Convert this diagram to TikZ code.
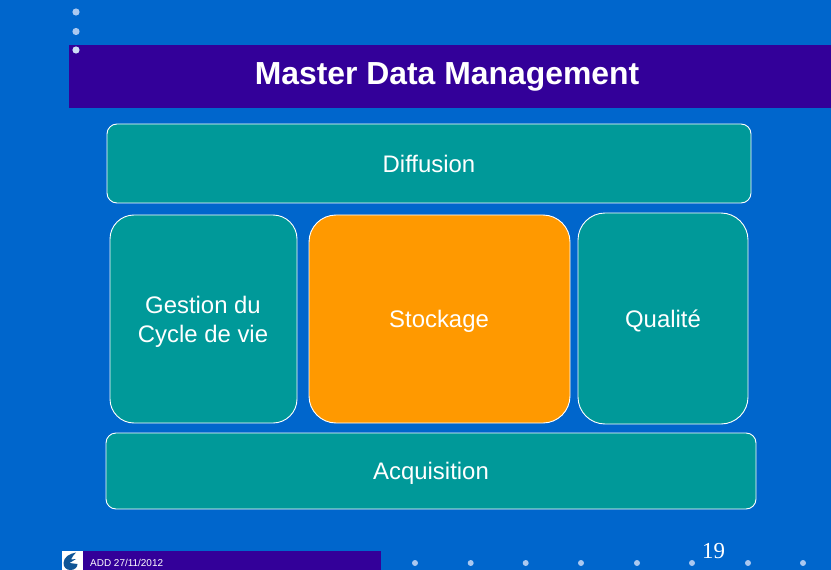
\documentclass[tikz,border=0pt]{standalone}
\usepackage{fontspec}
\setmainfont{Liberation Sans}
\newfontfamily\serifnum{Liberation Serif}
\definecolor{bgblue}{RGB}{0,102,204}
\definecolor{band}{RGB}{51,0,153}
\definecolor{tealc}{RGB}{0,153,153}
\definecolor{orangec}{RGB}{255,153,0}
\definecolor{dotc}{RGB}{170,200,240}
\definecolor{logoc}{RGB}{15,85,150}
\tikzset{
  x=1bp,y=-1bp,
  pane/.style={draw=white,line width=0.9bp,fill=tealc,rounded corners=#1},
  hot/.style={draw=white,line width=0.9bp,fill=orangec,rounded corners=#1},
  lab/.style={text=white,font=\fontsize{24}{29}\selectfont,align=center,inner sep=0},
}
\begin{document}
\begin{tikzpicture}
\useasboundingbox (0,0) rectangle (831,570);
\fill[bgblue] (0,0) rectangle (831,570);
\fill[band] (69,45) rectangle (831,108);
\foreach \y/\c in {12/dotc,31.5/dotc,50/dotc!60!white}
  \fill[\c] (76,\y) circle (3.6bp);
\node[inner sep=0,text=white,font=\bfseries\fontsize{32}{38}\selectfont] (title) at (447,77) {Master Data Management};
\draw[pane=10bp] (107,124) rectangle (751,203);
\draw[pane=24bp] (110,215) rectangle (297,423);
\draw[hot=27bp] (309,215) rectangle (570,423);
\draw[pane=27bp] (578,213) rectangle (748,424);
\draw[pane=10bp] (106,433) rectangle (756,509);
\node[lab] (diffusion) at (429,163.5) {Diffusion};
\node[lab] (gestion) at (203,321.5) {Gestion du\\Cycle de vie};
\node[lab] (stockage) at (439,321) {Stockage};
\node[lab] (qualite) at (663,321) {Qualité};
\node[lab] (acquisition) at (431,473) {Acquisition};
\fill[band] (83,551) rectangle (381,570);
\fill[white] (62,551) rectangle (83,570);
\fill[logoc] (76,552.5) .. controls (70,553.5) and (63.5,557) .. (63.5,563) .. controls (63.5,567.5) and (66.5,570) .. (70.5,570) .. controls (74.5,570) and (77.5,567.5) .. (77.5,564) -- (69.5,563) -- (76,559) -- (71,559.5) .. controls (72,557) and (74,554.5) .. (76,552.5) -- cycle;
\node[inner sep=0,anchor=base west,text=white,font=\fontsize{10}{12}\selectfont] (footer) at (90,566) {ADD 27/11/2012};
\foreach \x in {415,470.7,525.7,581,637,692,748,803}
  \fill[dotc] (\x,563) circle (3bp);
\node[inner sep=0,anchor=base,text=white,font=\serifnum\fontsize{23}{27}\selectfont] (page) at (713.5,558) {19};
\end{tikzpicture}
\end{document}
